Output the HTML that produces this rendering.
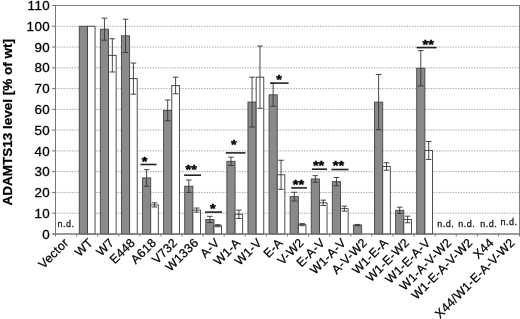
<!DOCTYPE html><html><head><meta charset="utf-8"><style>html,body{margin:0;padding:0;background:#fff}.t{font-family:"Liberation Sans",sans-serif}</style></head><body><svg width="520" height="319" viewBox="0 0 520 319" style="display:block">
<rect width="520" height="319" fill="#fff"/>
<line x1="55.5" x2="519.5" y1="213.23" y2="213.23" stroke="#aaa" stroke-width="1" stroke-dasharray="1.5,1.2"/>
<line x1="55.5" x2="519.5" y1="192.45" y2="192.45" stroke="#aaa" stroke-width="1" stroke-dasharray="1.5,1.2"/>
<line x1="55.5" x2="519.5" y1="171.68" y2="171.68" stroke="#aaa" stroke-width="1" stroke-dasharray="1.5,1.2"/>
<line x1="55.5" x2="519.5" y1="150.91" y2="150.91" stroke="#aaa" stroke-width="1" stroke-dasharray="1.5,1.2"/>
<line x1="55.5" x2="519.5" y1="130.14" y2="130.14" stroke="#aaa" stroke-width="1" stroke-dasharray="1.5,1.2"/>
<line x1="55.5" x2="519.5" y1="109.36" y2="109.36" stroke="#aaa" stroke-width="1" stroke-dasharray="1.5,1.2"/>
<line x1="55.5" x2="519.5" y1="88.59" y2="88.59" stroke="#aaa" stroke-width="1" stroke-dasharray="1.5,1.2"/>
<line x1="55.5" x2="519.5" y1="67.82" y2="67.82" stroke="#aaa" stroke-width="1" stroke-dasharray="1.5,1.2"/>
<line x1="55.5" x2="519.5" y1="47.05" y2="47.05" stroke="#aaa" stroke-width="1" stroke-dasharray="1.5,1.2"/>
<line x1="55.5" x2="519.5" y1="26.27" y2="26.27" stroke="#aaa" stroke-width="1" stroke-dasharray="1.5,1.2"/>
<rect x="55.5" y="5.5" width="464.0" height="228.5" fill="none" stroke="#808080" stroke-width="1"/>
<rect x="79.24" y="26.27" width="8.2" height="207.73" fill="#8a8a8a" stroke="#444" stroke-width="0.9"/>
<rect x="87.44" y="26.27" width="7.6" height="207.73" fill="#fff" stroke="#3a3a3a" stroke-width="0.9"/>
<rect x="100.33" y="29.18" width="8.2" height="204.82" fill="#8a8a8a" stroke="#444" stroke-width="0.9"/>
<path d="M104.43 18.17V40.19M101.63 18.17h5.6M101.63 40.19h5.6" stroke="#333" stroke-width="0.9" fill="none"/>
<rect x="108.53" y="55.35" width="7.6" height="178.65" fill="#fff" stroke="#3a3a3a" stroke-width="0.9"/>
<path d="M112.33 38.74V71.97M109.53 38.74h5.6M109.53 71.97h5.6" stroke="#333" stroke-width="0.9" fill="none"/>
<rect x="121.42" y="35.83" width="8.2" height="198.17" fill="#8a8a8a" stroke="#444" stroke-width="0.9"/>
<path d="M125.52 19.21V52.45M122.72 19.21h5.6M122.72 52.45h5.6" stroke="#333" stroke-width="0.9" fill="none"/>
<rect x="129.62" y="78.62" width="7.6" height="155.38" fill="#fff" stroke="#3a3a3a" stroke-width="0.9"/>
<path d="M133.42 63.04V94.20M130.62 63.04h5.6M130.62 94.20h5.6" stroke="#333" stroke-width="0.9" fill="none"/>
<rect x="142.51" y="177.91" width="8.2" height="56.09" fill="#8a8a8a" stroke="#444" stroke-width="0.9"/>
<path d="M146.61 169.60V186.22M143.81 169.60h5.6M143.81 186.22h5.6" stroke="#333" stroke-width="0.9" fill="none"/>
<rect x="150.71" y="204.92" width="7.6" height="29.08" fill="#fff" stroke="#3a3a3a" stroke-width="0.9"/>
<path d="M154.51 202.84V207.00M151.71 202.84h5.6M151.71 207.00h5.6" stroke="#333" stroke-width="0.9" fill="none"/>
<rect x="163.60" y="110.40" width="8.2" height="123.60" fill="#8a8a8a" stroke="#444" stroke-width="0.9"/>
<path d="M167.70 100.02V120.79M164.90 100.02h5.6M164.90 120.79h5.6" stroke="#333" stroke-width="0.9" fill="none"/>
<rect x="171.80" y="85.47" width="7.6" height="148.53" fill="#fff" stroke="#3a3a3a" stroke-width="0.9"/>
<path d="M175.60 77.17V93.78M172.80 77.17h5.6M172.80 93.78h5.6" stroke="#333" stroke-width="0.9" fill="none"/>
<rect x="184.69" y="186.22" width="8.2" height="47.78" fill="#8a8a8a" stroke="#444" stroke-width="0.9"/>
<path d="M188.79 179.99V192.45M185.99 179.99h5.6M185.99 192.45h5.6" stroke="#333" stroke-width="0.9" fill="none"/>
<rect x="192.89" y="210.11" width="7.6" height="23.89" fill="#fff" stroke="#3a3a3a" stroke-width="0.9"/>
<path d="M196.69 208.03V212.19M193.89 208.03h5.6M193.89 212.19h5.6" stroke="#333" stroke-width="0.9" fill="none"/>
<rect x="205.78" y="219.46" width="8.2" height="14.54" fill="#8a8a8a" stroke="#444" stroke-width="0.9"/>
<path d="M209.88 216.34V222.57M207.08 216.34h5.6M207.08 222.57h5.6" stroke="#333" stroke-width="0.9" fill="none"/>
<rect x="213.98" y="225.69" width="7.6" height="8.31" fill="#fff" stroke="#3a3a3a" stroke-width="0.9"/>
<path d="M217.78 224.65V226.73M214.98 224.65h5.6M214.98 226.73h5.6" stroke="#333" stroke-width="0.9" fill="none"/>
<rect x="226.87" y="161.30" width="8.2" height="72.70" fill="#8a8a8a" stroke="#444" stroke-width="0.9"/>
<path d="M230.97 157.14V165.45M228.17 157.14h5.6M228.17 165.45h5.6" stroke="#333" stroke-width="0.9" fill="none"/>
<rect x="235.07" y="214.27" width="7.6" height="19.73" fill="#fff" stroke="#3a3a3a" stroke-width="0.9"/>
<path d="M238.87 210.11V218.42M236.07 210.11h5.6M236.07 218.42h5.6" stroke="#333" stroke-width="0.9" fill="none"/>
<rect x="247.96" y="102.09" width="8.2" height="131.91" fill="#8a8a8a" stroke="#444" stroke-width="0.9"/>
<path d="M252.06 77.17V127.02M249.26 77.17h5.6M249.26 127.02h5.6" stroke="#333" stroke-width="0.9" fill="none"/>
<rect x="256.16" y="77.17" width="7.6" height="156.83" fill="#fff" stroke="#3a3a3a" stroke-width="0.9"/>
<path d="M259.96 46.01V108.33M257.16 46.01h5.6M257.16 108.33h5.6" stroke="#333" stroke-width="0.9" fill="none"/>
<rect x="269.05" y="94.82" width="8.2" height="139.18" fill="#8a8a8a" stroke="#444" stroke-width="0.9"/>
<path d="M273.15 83.40V106.25M270.35 83.40h5.6M270.35 106.25h5.6" stroke="#333" stroke-width="0.9" fill="none"/>
<rect x="277.25" y="174.80" width="7.6" height="59.20" fill="#fff" stroke="#3a3a3a" stroke-width="0.9"/>
<path d="M281.05 160.26V189.34M278.25 160.26h5.6M278.25 189.34h5.6" stroke="#333" stroke-width="0.9" fill="none"/>
<rect x="290.15" y="196.61" width="8.2" height="37.39" fill="#8a8a8a" stroke="#444" stroke-width="0.9"/>
<path d="M294.25 192.25V200.97M291.45 192.25h5.6M291.45 200.97h5.6" stroke="#333" stroke-width="0.9" fill="none"/>
<rect x="298.35" y="224.65" width="7.6" height="9.35" fill="#fff" stroke="#3a3a3a" stroke-width="0.9"/>
<path d="M302.15 223.61V225.69M299.35 223.61h5.6M299.35 225.69h5.6" stroke="#333" stroke-width="0.9" fill="none"/>
<rect x="311.24" y="178.95" width="8.2" height="55.05" fill="#8a8a8a" stroke="#444" stroke-width="0.9"/>
<path d="M315.34 175.63V182.28M312.54 175.63h5.6M312.54 182.28h5.6" stroke="#333" stroke-width="0.9" fill="none"/>
<rect x="319.44" y="202.84" width="7.6" height="31.16" fill="#fff" stroke="#3a3a3a" stroke-width="0.9"/>
<path d="M323.24 200.14V205.54M320.44 200.14h5.6M320.44 205.54h5.6" stroke="#333" stroke-width="0.9" fill="none"/>
<rect x="332.33" y="181.65" width="8.2" height="52.35" fill="#8a8a8a" stroke="#444" stroke-width="0.9"/>
<path d="M336.43 177.50V185.81M333.63 177.50h5.6M333.63 185.81h5.6" stroke="#333" stroke-width="0.9" fill="none"/>
<rect x="340.53" y="208.66" width="7.6" height="25.34" fill="#fff" stroke="#3a3a3a" stroke-width="0.9"/>
<path d="M344.33 206.16V211.15M341.53 206.16h5.6M341.53 211.15h5.6" stroke="#333" stroke-width="0.9" fill="none"/>
<rect x="353.42" y="225.07" width="8.2" height="8.93" fill="#8a8a8a" stroke="#444" stroke-width="0.9"/>
<path d="M357.52 224.44V225.69M354.72 224.44h5.6M354.72 225.69h5.6" stroke="#333" stroke-width="0.9" fill="none"/>
<rect x="374.51" y="102.09" width="8.2" height="131.91" fill="#8a8a8a" stroke="#444" stroke-width="0.9"/>
<path d="M378.61 74.47V129.72M375.81 74.47h5.6M375.81 129.72h5.6" stroke="#333" stroke-width="0.9" fill="none"/>
<rect x="382.71" y="166.49" width="7.6" height="67.51" fill="#fff" stroke="#3a3a3a" stroke-width="0.9"/>
<path d="M386.51 162.75V170.23M383.71 162.75h5.6M383.71 170.23h5.6" stroke="#333" stroke-width="0.9" fill="none"/>
<rect x="395.60" y="210.32" width="8.2" height="23.68" fill="#8a8a8a" stroke="#444" stroke-width="0.9"/>
<path d="M399.70 207.20V213.44M396.90 207.20h5.6M396.90 213.44h5.6" stroke="#333" stroke-width="0.9" fill="none"/>
<rect x="403.80" y="219.46" width="7.6" height="14.54" fill="#fff" stroke="#3a3a3a" stroke-width="0.9"/>
<path d="M407.60 216.14V222.78M404.80 216.14h5.6M404.80 222.78h5.6" stroke="#333" stroke-width="0.9" fill="none"/>
<rect x="416.69" y="68.23" width="8.2" height="165.77" fill="#8a8a8a" stroke="#444" stroke-width="0.9"/>
<path d="M420.79 50.58V85.89M417.99 50.58h5.6M417.99 85.89h5.6" stroke="#333" stroke-width="0.9" fill="none"/>
<rect x="424.89" y="150.49" width="7.6" height="83.51" fill="#fff" stroke="#3a3a3a" stroke-width="0.9"/>
<path d="M428.69 141.56V159.43M425.89 141.56h5.6M425.89 159.43h5.6" stroke="#333" stroke-width="0.9" fill="none"/>
<line x1="55.5" x2="55.5" y1="5.5" y2="234.0" stroke="#777" stroke-width="1"/>
<line x1="52.0" x2="519.5" y1="234.0" y2="234.0" stroke="#777" stroke-width="1"/>
<line x1="52.0" x2="55.5" y1="234.00" y2="234.00" stroke="#777" stroke-width="1"/>
<text x="50" y="238.60" text-anchor="end" font-size="13.4" letter-spacing="0.35" class="t" stroke="#000" stroke-width="0.3">0</text>
<line x1="52.0" x2="55.5" y1="213.23" y2="213.23" stroke="#777" stroke-width="1"/>
<text x="50" y="217.83" text-anchor="end" font-size="13.4" letter-spacing="0.35" class="t" stroke="#000" stroke-width="0.3">10</text>
<line x1="52.0" x2="55.5" y1="192.45" y2="192.45" stroke="#777" stroke-width="1"/>
<text x="50" y="197.05" text-anchor="end" font-size="13.4" letter-spacing="0.35" class="t" stroke="#000" stroke-width="0.3">20</text>
<line x1="52.0" x2="55.5" y1="171.68" y2="171.68" stroke="#777" stroke-width="1"/>
<text x="50" y="176.28" text-anchor="end" font-size="13.4" letter-spacing="0.35" class="t" stroke="#000" stroke-width="0.3">30</text>
<line x1="52.0" x2="55.5" y1="150.91" y2="150.91" stroke="#777" stroke-width="1"/>
<text x="50" y="155.51" text-anchor="end" font-size="13.4" letter-spacing="0.35" class="t" stroke="#000" stroke-width="0.3">40</text>
<line x1="52.0" x2="55.5" y1="130.14" y2="130.14" stroke="#777" stroke-width="1"/>
<text x="50" y="134.74" text-anchor="end" font-size="13.4" letter-spacing="0.35" class="t" stroke="#000" stroke-width="0.3">50</text>
<line x1="52.0" x2="55.5" y1="109.36" y2="109.36" stroke="#777" stroke-width="1"/>
<text x="50" y="113.96" text-anchor="end" font-size="13.4" letter-spacing="0.35" class="t" stroke="#000" stroke-width="0.3">60</text>
<line x1="52.0" x2="55.5" y1="88.59" y2="88.59" stroke="#777" stroke-width="1"/>
<text x="50" y="93.19" text-anchor="end" font-size="13.4" letter-spacing="0.35" class="t" stroke="#000" stroke-width="0.3">70</text>
<line x1="52.0" x2="55.5" y1="67.82" y2="67.82" stroke="#777" stroke-width="1"/>
<text x="50" y="72.42" text-anchor="end" font-size="13.4" letter-spacing="0.35" class="t" stroke="#000" stroke-width="0.3">80</text>
<line x1="52.0" x2="55.5" y1="47.05" y2="47.05" stroke="#777" stroke-width="1"/>
<text x="50" y="51.65" text-anchor="end" font-size="13.4" letter-spacing="0.35" class="t" stroke="#000" stroke-width="0.3">90</text>
<line x1="52.0" x2="55.5" y1="26.27" y2="26.27" stroke="#777" stroke-width="1"/>
<text x="50" y="30.87" text-anchor="end" font-size="13.4" letter-spacing="0.35" class="t" stroke="#000" stroke-width="0.3">100</text>
<line x1="52.0" x2="55.5" y1="5.50" y2="5.50" stroke="#777" stroke-width="1"/>
<text x="50" y="10.10" text-anchor="end" font-size="13.4" letter-spacing="0.35" class="t" stroke="#000" stroke-width="0.3">110</text>
<line x1="55.50" x2="55.50" y1="234.0" y2="236.5" stroke="#777" stroke-width="1"/>
<line x1="76.59" x2="76.59" y1="234.0" y2="236.5" stroke="#777" stroke-width="1"/>
<line x1="97.68" x2="97.68" y1="234.0" y2="236.5" stroke="#777" stroke-width="1"/>
<line x1="118.77" x2="118.77" y1="234.0" y2="236.5" stroke="#777" stroke-width="1"/>
<line x1="139.86" x2="139.86" y1="234.0" y2="236.5" stroke="#777" stroke-width="1"/>
<line x1="160.95" x2="160.95" y1="234.0" y2="236.5" stroke="#777" stroke-width="1"/>
<line x1="182.05" x2="182.05" y1="234.0" y2="236.5" stroke="#777" stroke-width="1"/>
<line x1="203.14" x2="203.14" y1="234.0" y2="236.5" stroke="#777" stroke-width="1"/>
<line x1="224.23" x2="224.23" y1="234.0" y2="236.5" stroke="#777" stroke-width="1"/>
<line x1="245.32" x2="245.32" y1="234.0" y2="236.5" stroke="#777" stroke-width="1"/>
<line x1="266.41" x2="266.41" y1="234.0" y2="236.5" stroke="#777" stroke-width="1"/>
<line x1="287.50" x2="287.50" y1="234.0" y2="236.5" stroke="#777" stroke-width="1"/>
<line x1="308.59" x2="308.59" y1="234.0" y2="236.5" stroke="#777" stroke-width="1"/>
<line x1="329.68" x2="329.68" y1="234.0" y2="236.5" stroke="#777" stroke-width="1"/>
<line x1="350.77" x2="350.77" y1="234.0" y2="236.5" stroke="#777" stroke-width="1"/>
<line x1="371.86" x2="371.86" y1="234.0" y2="236.5" stroke="#777" stroke-width="1"/>
<line x1="392.95" x2="392.95" y1="234.0" y2="236.5" stroke="#777" stroke-width="1"/>
<line x1="414.05" x2="414.05" y1="234.0" y2="236.5" stroke="#777" stroke-width="1"/>
<line x1="435.14" x2="435.14" y1="234.0" y2="236.5" stroke="#777" stroke-width="1"/>
<line x1="456.23" x2="456.23" y1="234.0" y2="236.5" stroke="#777" stroke-width="1"/>
<line x1="477.32" x2="477.32" y1="234.0" y2="236.5" stroke="#777" stroke-width="1"/>
<line x1="498.41" x2="498.41" y1="234.0" y2="236.5" stroke="#777" stroke-width="1"/>
<line x1="519.50" x2="519.50" y1="234.0" y2="236.5" stroke="#777" stroke-width="1"/>
<text x="66.05" y="226.5" text-anchor="middle" font-size="9" letter-spacing="0.5" class="t" fill="#222" stroke="#222" stroke-width="0.3">n.d.</text>
<text x="445.68" y="226.5" text-anchor="middle" font-size="9" letter-spacing="0.5" class="t" fill="#222" stroke="#222" stroke-width="0.3">n.d.</text>
<text x="466.77" y="226.5" text-anchor="middle" font-size="9" letter-spacing="0.5" class="t" fill="#222" stroke="#222" stroke-width="0.3">n.d.</text>
<text x="488.76" y="226.5" text-anchor="middle" font-size="9" letter-spacing="0.5" class="t" fill="#222" stroke="#222" stroke-width="0.3">n.d.</text>
<text x="508.95" y="224.6" text-anchor="middle" font-size="9" letter-spacing="0.5" class="t" fill="#222" stroke="#222" stroke-width="0.3">n.d.</text>
<line x1="140.4" x2="156.5" y1="164.5" y2="164.5" stroke="#222" stroke-width="1.6"/>
<text transform="translate(144.7,159.8) scale(1,0.84)" x="0" y="7.4" text-anchor="middle" font-size="14.5" font-weight="bold" class="t" fill="#000" stroke="#000" stroke-width="0.5">*</text>
<line x1="184.1" x2="201" y1="175.2" y2="175.2" stroke="#222" stroke-width="1.6"/>
<text transform="translate(191.2,168.2) scale(1,0.84)" x="0" y="7.4" text-anchor="middle" font-size="14.5" font-weight="bold" class="t" fill="#000" stroke="#000" stroke-width="0.5">**</text>
<line x1="205.1" x2="222.2" y1="212.1" y2="212.1" stroke="#222" stroke-width="1.6"/>
<text transform="translate(212.8,206.8) scale(1,0.84)" x="0" y="7.4" text-anchor="middle" font-size="14.5" font-weight="bold" class="t" fill="#000" stroke="#000" stroke-width="0.5">*</text>
<line x1="225.8" x2="245.5" y1="152.9" y2="152.9" stroke="#222" stroke-width="1.6"/>
<text transform="translate(233.9,143.2) scale(1,0.84)" x="0" y="7.4" text-anchor="middle" font-size="14.5" font-weight="bold" class="t" fill="#000" stroke="#000" stroke-width="0.5">*</text>
<line x1="270.1" x2="288.6" y1="83.1" y2="83.1" stroke="#222" stroke-width="1.6"/>
<text transform="translate(279,77.9) scale(1,0.84)" x="0" y="7.4" text-anchor="middle" font-size="14.5" font-weight="bold" class="t" fill="#000" stroke="#000" stroke-width="0.5">*</text>
<line x1="291.2" x2="307" y1="187.9" y2="187.9" stroke="#222" stroke-width="1.6"/>
<text transform="translate(298.4,182.5) scale(1,0.84)" x="0" y="7.4" text-anchor="middle" font-size="14.5" font-weight="bold" class="t" fill="#000" stroke="#000" stroke-width="0.5">**</text>
<line x1="311.9" x2="327" y1="169.2" y2="169.2" stroke="#222" stroke-width="1.6"/>
<text transform="translate(318.6,164.1) scale(1,0.84)" x="0" y="7.4" text-anchor="middle" font-size="14.5" font-weight="bold" class="t" fill="#000" stroke="#000" stroke-width="0.5">**</text>
<line x1="331.4" x2="348.5" y1="169.5" y2="169.5" stroke="#222" stroke-width="1.6"/>
<text transform="translate(338.4,164.1) scale(1,0.84)" x="0" y="7.4" text-anchor="middle" font-size="14.5" font-weight="bold" class="t" fill="#000" stroke="#000" stroke-width="0.5">**</text>
<line x1="416.5" x2="436.5" y1="47.6" y2="47.6" stroke="#222" stroke-width="1.6"/>
<text transform="translate(428.2,42.8) scale(1,0.84)" x="0" y="7.4" text-anchor="middle" font-size="14.5" font-weight="bold" class="t" fill="#000" stroke="#000" stroke-width="0.5">**</text>
<text transform="translate(69.35,243.4) rotate(-45)" text-anchor="end" font-size="12.3" letter-spacing="0.3" class="t" stroke="#000" stroke-width="0.25">Vector</text>
<text transform="translate(93.74,243.4) rotate(-45)" text-anchor="end" font-size="12.3" letter-spacing="0.3" class="t" stroke="#000" stroke-width="0.25">WT</text>
<text transform="translate(114.83,243.4) rotate(-45)" text-anchor="end" font-size="12.3" letter-spacing="0.3" class="t" stroke="#000" stroke-width="0.25">W7</text>
<text transform="translate(135.92,243.4) rotate(-45)" text-anchor="end" font-size="12.3" letter-spacing="0.3" class="t" stroke="#000" stroke-width="0.25">E448</text>
<text transform="translate(157.01,243.4) rotate(-45)" text-anchor="end" font-size="12.3" letter-spacing="0.3" class="t" stroke="#000" stroke-width="0.25">A618</text>
<text transform="translate(178.10,243.4) rotate(-45)" text-anchor="end" font-size="12.3" letter-spacing="0.3" class="t" stroke="#000" stroke-width="0.25">V732</text>
<text transform="translate(199.19,243.4) rotate(-45)" text-anchor="end" font-size="12.3" letter-spacing="0.3" class="t" stroke="#000" stroke-width="0.25">W1336</text>
<text transform="translate(220.28,243.4) rotate(-45)" text-anchor="end" font-size="12.3" letter-spacing="0.3" class="t" stroke="#000" stroke-width="0.25">A-V</text>
<text transform="translate(241.37,243.4) rotate(-45)" text-anchor="end" font-size="12.3" letter-spacing="0.3" class="t" stroke="#000" stroke-width="0.25">W1-A</text>
<text transform="translate(262.46,243.4) rotate(-45)" text-anchor="end" font-size="12.3" letter-spacing="0.3" class="t" stroke="#000" stroke-width="0.25">W1-V</text>
<text transform="translate(283.55,243.4) rotate(-45)" text-anchor="end" font-size="12.3" letter-spacing="0.3" class="t" stroke="#000" stroke-width="0.25">E-A</text>
<text transform="translate(304.65,243.4) rotate(-45)" text-anchor="end" font-size="12.3" letter-spacing="0.3" class="t" stroke="#000" stroke-width="0.25">V-W2</text>
<text transform="translate(325.74,243.4) rotate(-45)" text-anchor="end" font-size="12.3" letter-spacing="0.3" class="t" stroke="#000" stroke-width="0.25">E-A-V</text>
<text transform="translate(346.83,243.4) rotate(-45)" text-anchor="end" font-size="12.3" letter-spacing="0.3" class="t" stroke="#000" stroke-width="0.25">W1-A-V</text>
<text transform="translate(367.92,243.4) rotate(-45)" text-anchor="end" font-size="12.3" letter-spacing="0.3" class="t" stroke="#000" stroke-width="0.25">A-V-W2</text>
<text transform="translate(389.01,243.4) rotate(-45)" text-anchor="end" font-size="12.3" letter-spacing="0.3" class="t" stroke="#000" stroke-width="0.25">W1-E-A</text>
<text transform="translate(410.10,243.4) rotate(-45)" text-anchor="end" font-size="12.3" letter-spacing="0.3" class="t" stroke="#000" stroke-width="0.25">W1-E-W2</text>
<text transform="translate(431.19,243.4) rotate(-45)" text-anchor="end" font-size="12.3" letter-spacing="0.3" class="t" stroke="#000" stroke-width="0.25">W1-E-A-V</text>
<text transform="translate(452.28,243.4) rotate(-45)" text-anchor="end" font-size="12.3" letter-spacing="0.3" class="t" stroke="#000" stroke-width="0.25">W1-A-V-W2</text>
<text transform="translate(473.37,243.4) rotate(-45)" text-anchor="end" font-size="12.3" letter-spacing="0.3" class="t" stroke="#000" stroke-width="0.25">W1-E-A-V-W2</text>
<text transform="translate(494.46,243.4) rotate(-45)" text-anchor="end" font-size="12.3" letter-spacing="0.3" class="t" stroke="#000" stroke-width="0.25">X44</text>
<text transform="translate(515.55,243.4) rotate(-45)" text-anchor="end" font-size="12.3" letter-spacing="0.3" class="t" stroke="#000" stroke-width="0.25">X44/W1-E-A-V-W2</text>
<text transform="translate(12.3,122.3) rotate(-90)" text-anchor="middle" font-size="13.5" font-weight="bold" class="t" stroke="#000" stroke-width="0.25">ADAMTS13 level [% of wt]</text>
</svg></body></html>
